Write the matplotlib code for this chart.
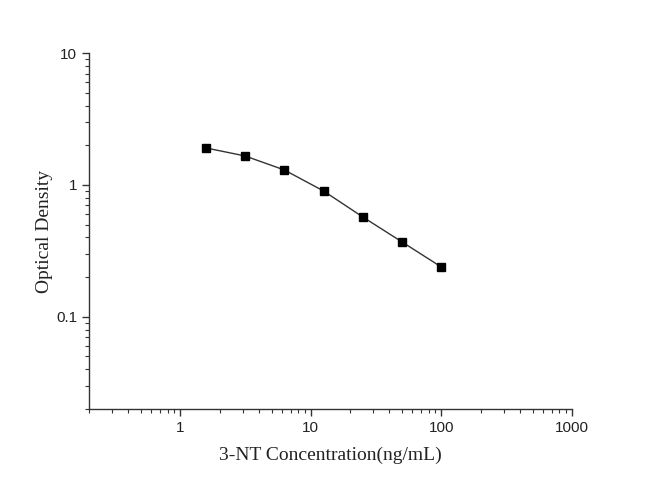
import matplotlib.pyplot as plt
from matplotlib.ticker import LogLocator, FixedFormatter, FixedLocator, NullFormatter

# standard curve
conc = [1.5625, 3.125, 6.25, 12.5, 25, 50, 100]
od = [1.91, 1.66, 1.30, 0.90, 0.571, 0.369, 0.238]

x_ticks = [1, 10, 100, 1000]
x_labels = ["1", "10", "100", "1000"]
y_ticks = [0.1, 1, 10]
y_labels = ["0.1", "1", "10"]

fig = plt.figure(figsize=(6.5, 4.92), dpi=100)
ax = fig.add_axes([0.137, 0.169, 0.743, 0.723])

ax.plot(conc, od, color="#333333", lw=1.0, marker="s", ms=6,
        mfc="black", mec="black")

ax.set_xscale("log")
ax.set_yscale("log")
ax.set_xlim(0.2, 1000)
ax.set_ylim(0.02, 10)

ax.xaxis.set_major_locator(FixedLocator(x_ticks))
ax.xaxis.set_major_formatter(FixedFormatter(x_labels))
ax.yaxis.set_major_locator(FixedLocator(y_ticks))
ax.yaxis.set_major_formatter(FixedFormatter(y_labels))
ax.xaxis.set_minor_locator(LogLocator(base=10, subs=range(2, 10), numticks=20))
ax.yaxis.set_minor_locator(LogLocator(base=10, subs=range(2, 10), numticks=20))
ax.xaxis.set_minor_formatter(NullFormatter())
ax.yaxis.set_minor_formatter(NullFormatter())

for side in ["top", "right"]:
    ax.spines[side].set_visible(False)
for side in ["left", "bottom"]:
    ax.spines[side].set_color("#333333")
    ax.spines[side].set_linewidth(1.0)

ax.tick_params(which="major", direction="out", length=5, width=1, color="#333333",
               labelsize=11, labelcolor="#222222")
ax.tick_params(which="minor", direction="out", length=3, width=0.8, color="#333333")
for lab in ax.get_xticklabels() + ax.get_yticklabels():
    lab.set_family("Liberation Sans")

ax.set_xlabel("3-NT Concentration(ng/mL)", family="Liberation Serif", fontsize=14,
              labelpad=9, color="#222222")
ax.set_ylabel("Optical Density", family="Liberation Serif", fontsize=14, labelpad=2,
              color="#222222")

fig.savefig("out.png", dpi=100)
